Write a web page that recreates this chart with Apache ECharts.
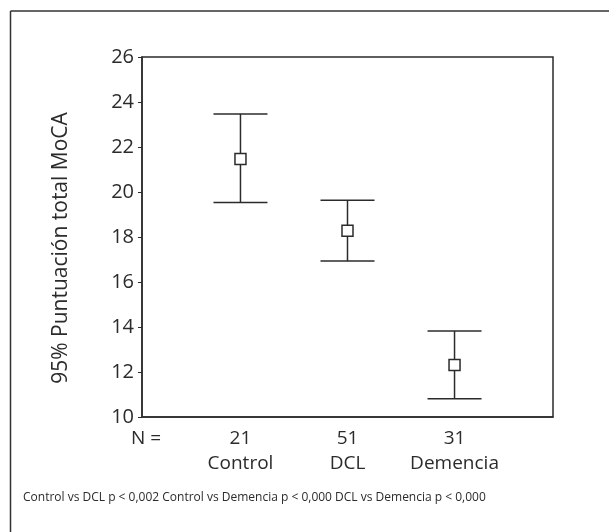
<!DOCTYPE html>
<html><head><meta charset="utf-8">
<script src="https://cdn.jsdelivr.net/npm/echarts@6/dist/echarts.min.js"></script>
<style>html,body{margin:0;padding:0;background:#fff}#c{width:609px;height:532px}</style>
</head><body><div id="c"></div>
<script>
const categories = ['Control', 'DCL', 'Demencia'];
const counts = [21, 51, 31];
const means = [21.47, 18.28, 12.31];
const lower = [19.53, 16.93, 10.81];
const upper = [23.47, 19.63, 13.82];
const yTicks = [10, 12, 14, 16, 18, 20, 22, 24, 26];
const yTitle = '95% Puntuación total MoCA';
const footer = 'Control vs DCL p < 0,002 Control vs Demencia p < 0,000 DCL vs Demencia p < 0,000';

const FONT = '"Open Sans", "Noto Sans", sans-serif';
const INK = '#2b2b2b';
const data = categories.map((c, i) => [i + 1, lower[i], upper[i], means[i]]);

const chart = echarts.init(document.getElementById('c'), null, {renderer: 'canvas'});
chart.setOption({
  animation: false,
  backgroundColor: '#fff',
  grid: {left: 142, top: 57, right: 56, bottom: 115, show: true, borderColor: INK, borderWidth: 1.5, backgroundColor: 'transparent'},
  xAxis: {
    type: 'value', min: 0.08, max: 3.92,
    splitLine: {show: false},
    axisLine: {show: true, lineStyle: {color: INK, width: 1.5}},
    axisTick: {show: false},
    axisLabel: {
      customValues: [1, 2, 3],
      margin: 9,
      formatter: v => '{n|' + counts[v - 1] + '}\n{c|' + categories[v - 1] + '}',
      rich: {
        n: {fontFamily: FONT, fontSize: 19, color: INK, lineHeight: 25},
        c: {fontFamily: FONT, fontSize: 19, color: INK, lineHeight: 25}
      }
    }
  },
  yAxis: {
    type: 'value', min: yTicks[0], max: yTicks[yTicks.length - 1], interval: 2,
    splitLine: {show: false},
    axisLine: {show: true, lineStyle: {color: INK, width: 1.5}},
    axisTick: {show: true, inside: false, length: 4, lineStyle: {color: INK, width: 1}},
    axisLabel: {margin: 8, fontFamily: FONT, fontSize: 20, color: INK},
    name: yTitle, nameLocation: 'middle', nameGap: 70, nameRotate: 90,
    nameTextStyle: {fontFamily: FONT, fontSize: 21, color: INK, padding: [0, 22, 0, 0]}
  },
  series: [{
    type: 'custom',
    data: data,
    renderItem: function (params, api) {
      const x = api.value(0);
      const lo = api.coord([x, api.value(1)]);
      const hi = api.coord([x, api.value(2)]);
      const m = api.coord([x, api.value(3)]);
      const half = 27, s = 5.5;
      const st = {stroke: INK, lineWidth: 1.5, fill: null};
      return {type: 'group', children: [
        {type: 'line', shape: {x1: hi[0], y1: hi[1], x2: m[0], y2: m[1] - s}, style: st},
        {type: 'line', shape: {x1: lo[0], y1: lo[1], x2: m[0], y2: m[1] + s}, style: st},
        {type: 'line', shape: {x1: hi[0] - half, y1: hi[1], x2: hi[0] + half, y2: hi[1]}, style: st},
        {type: 'line', shape: {x1: lo[0] - half, y1: lo[1], x2: lo[0] + half, y2: lo[1]}, style: st},
        {type: 'rect', shape: {x: m[0] - s, y: m[1] - s, width: 2 * s, height: 2 * s}, style: {stroke: INK, lineWidth: 1.5, fill: '#fff'}}
      ]};
    }
  }],
  graphic: [
    {type: 'line', shape: {x1: 10.5, y1: 11, x2: 609, y2: 11}, style: {stroke: '#333', lineWidth: 1.5}},
    {type: 'line', shape: {x1: 10.5, y1: 11, x2: 10.5, y2: 532}, style: {stroke: '#333', lineWidth: 1.5}},
    {type: 'text', left: 131, top: 429, style: {text: 'N =', font: '19px ' + FONT, fill: INK}},
    {type: 'text', left: 23, top: 492, style: {text: footer, font: '12px ' + FONT, fill: INK}}
  ]
});
</script></body></html>
